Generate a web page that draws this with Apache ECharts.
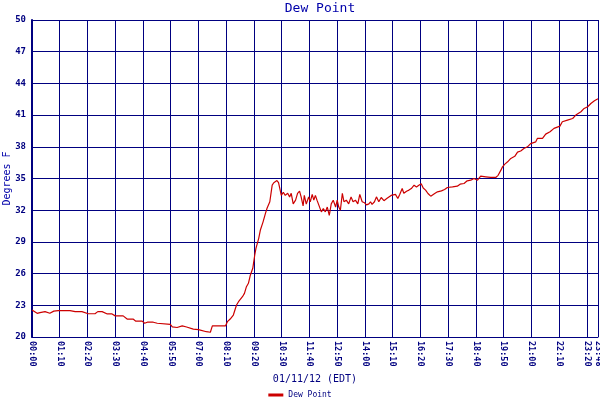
<!DOCTYPE html>
<html>
<head>
<meta charset="utf-8">
<script src="https://cdn.jsdelivr.net/npm/echarts@6/dist/echarts.min.js"></script>
<style>
  html, body { margin: 0; padding: 0; background: #fff; }
  #chart { width: 600px; height: 400px; }
</style>
</head>
<body>
<div id="chart"></div>
<script>
// minutes after midnight, 01/11/12
var minutes = [
  0, 13, 20, 33, 45, 55, 66, 96, 109, 126, 142, 159, 166, 177, 190, 202, 210, 230,
  240, 255, 262, 278, 284, 291, 306, 316, 349, 354, 366, 370, 379, 390, 407, 420,
  425, 440, 450, 455, 470, 475, 480, 488, 493, 500, 508, 516, 521, 531, 536, 541,
  546, 551, 557, 562, 565, 572, 576, 583, 589, 593, 600, 603, 606, 610, 614, 618,
  622, 629, 634, 639, 645, 650, 654, 659, 665, 670, 675, 679, 684, 687, 692, 698,
  702, 707, 711, 715, 719, 723, 730, 735, 740, 745, 750, 755, 760, 766, 770, 774,
  778, 783, 787, 793, 799, 805, 810, 816, 822, 827, 833, 839, 844, 850, 854, 858,
  864, 869, 875, 881, 888, 895, 900, 906, 911, 917, 923, 928, 934, 938, 945, 951,
  957, 964, 970, 976, 982, 987, 993, 999, 1006, 1010, 1016, 1023, 1033, 1041, 1048,
  1061, 1065, 1073, 1080, 1090, 1098, 1107, 1115, 1124, 1132, 1145, 1157, 1170,
  1176, 1183, 1187, 1193, 1200, 1208, 1218, 1225, 1233, 1241, 1250, 1258, 1271,
  1275, 1288, 1296, 1307, 1317, 1332, 1338, 1351, 1364, 1372, 1385, 1393, 1402,
  1410, 1419, 1424, 1428
];
var dewPoint = [
  22.55, 22.24, 22.3, 22.4, 22.25, 22.45, 22.5, 22.5, 22.4, 22.4, 22.2, 22.2, 22.4, 22.4, 22.18, 22.18, 22.0, 22.0,
  21.7, 21.7, 21.5, 21.5, 21.3, 21.4, 21.4, 21.3, 21.2, 20.95, 20.9, 20.85, 21.05, 20.95, 20.75, 20.7,
  20.6, 20.5, 20.45, 21.05, 21.05, 20.88, 21.05, 21.05, 21.45, 21.7, 22.08, 23.03, 23.34, 23.81, 24.13, 24.76,
  25.08, 25.87, 26.5, 27.76, 28.39, 29.34, 30.1, 30.9, 31.7, 32.18, 32.8, 33.6, 34.38, 34.6, 34.5, 34.8,
  34.6, 33.4, 33.7, 33.4, 33.6, 33.26, 33.6, 32.6, 32.95, 33.6, 33.8, 33.26, 32.4, 33.4, 32.57, 33.26,
  32.8, 33.5, 32.95, 33.4, 32.95, 32.8, 31.84, 32.15, 31.84, 32.3, 31.5, 32.6, 32.95, 32.3, 32.95, 32.3,
  32.0, 33.6, 32.8, 32.95, 32.6, 33.26, 32.8, 32.95, 32.6, 33.5, 32.8, 32.7, 32.5, 32.6, 32.8, 32.55,
  32.8, 33.26, 32.8, 33.2, 32.9, 33.1, 33.0, 33.4, 33.26, 33.5, 33.1, 33.5, 34.05, 33.6, 33.8, 33.9,
  34.05, 34.37, 34.2, 34.37, 34.5, 34.1, 33.9, 33.58, 33.33, 33.2, 33.58, 33.74, 33.83, 33.96, 34.15,
  34.2, 34.05, 34.27, 34.46, 34.53, 34.78, 34.84, 35.0, 34.84, 35.22, 35.16, 35.1, 35.1,
  35.3, 35.79, 36.1, 36.36, 36.58, 36.9, 37.1, 37.5, 37.6, 37.84, 38.0, 38.3, 38.47,
  38.79, 38.79, 39.2, 39.42, 39.74, 39.96, 40.37, 40.53, 40.68, 41.0, 41.32, 41.63, 41.79,
  42.1, 42.36, 42.48, 42.55
];

var yMin = 20, yMax = 50, yStep = 3;
var xMin = 0, xMax = 1428, xStep = 70;

var navy = '#000080';
var mono = 'DejaVu Sans Mono';

function hhmm(v) {
  var h = Math.floor(v / 60), m = Math.round(v % 60);
  return (h < 10 ? '0' : '') + h + ':' + (m < 10 ? '0' : '') + m;
}

var chart = echarts.init(document.getElementById('chart'));

var series_data = minutes.map(function (m, i) { return [m, dewPoint[i]]; });

var option = {
  animation: false,
  backgroundColor: '#ffffff',
  title: {
    text: 'Dew Point',
    left: 315,
    textAlign: 'center',
    top: -3,
    textStyle: { fontFamily: mono, fontSize: 13, fontWeight: 'normal', color: '#0000aa' }
  },
  legend: {
    bottom: 1,
    left: 'center',
    padding: 0,
    itemWidth: 15,
    itemHeight: 3,
    itemGap: 4,
    icon: 'rect',
    textStyle: { fontFamily: mono, fontSize: 8, color: navy },
    data: ['Dew Point']
  },
  grid: { left: 32, right: 2, top: 20, bottom: 63, containLabel: false, outerBoundsMode: 'none' },
  xAxis: {
    type: 'value',
    min: xMin,
    max: xMax,
    interval: xStep,
    name: '01/11/12 (EDT)',
    nameLocation: 'middle',
    nameGap: 37,
    nameMoveOverlap: false,
    nameTextStyle: { fontFamily: mono, fontSize: 10, color: navy },
    axisLine: { lineStyle: { color: navy, width: 1 } },
    axisTick: { show: false },
    axisLabel: {
      rotate: -90,
      fontFamily: mono,
      fontSize: 8.5,
      fontWeight: 'bold',
      color: navy,
      margin: 4,
      formatter: hhmm
    },
    splitLine: { show: true, lineStyle: { color: navy, width: 1 } }
  },
  yAxis: {
    type: 'value',
    min: yMin,
    max: yMax,
    interval: yStep,
    name: 'Degrees F',
    nameLocation: 'middle',
    nameGap: 20,
    nameMoveOverlap: false,
    nameTextStyle: { fontFamily: mono, fontSize: 10, color: '#0000aa' },
    axisLine: { show: true, lineStyle: { color: navy, width: 2 } },
    axisTick: { show: false },
    axisLabel: { fontFamily: mono, fontSize: 9, fontWeight: 'bold', color: navy, margin: 6 },
    splitLine: { show: true, lineStyle: { color: navy, width: 1 } }
  },
  series: [{
    name: 'Dew Point',
    type: 'line',
    data: series_data,
    showSymbol: false,
    symbol: 'none',
    lineStyle: { color: '#cc0000', width: 1.2 },
    itemStyle: { color: '#cc0000' }
  }]
};

chart.setOption(option);
</script>
</body>
</html>
